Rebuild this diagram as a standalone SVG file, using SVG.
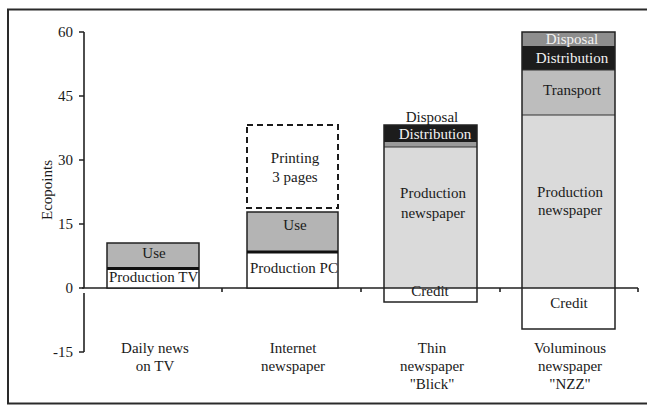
<svg xmlns="http://www.w3.org/2000/svg" width="647" height="407" viewBox="0 0 647 407">
<style>
text{font-family:"Liberation Serif","Times New Roman",serif;fill:#1a1a1a;font-size:15px}
.c{text-anchor:middle}
.r{text-anchor:end}
.w{fill:#f2f2f2}
.ax{stroke:#222;stroke-width:1.6;fill:none}
.seg{stroke:#222;stroke-width:1.3}
.use{fill:#b4b4b4}
.prod{fill:#dadada}
.trans{fill:#bdbdbd}
.dist{fill:#1c1c1c}
.disp{fill:#8e8e8e}
.white{fill:#ffffff}
.sep{stroke:#111;stroke-width:3}
</style>
<rect x="0" y="0" width="647" height="407" fill="#ffffff"/>
<rect x="8" y="9.5" width="660" height="394" fill="none" stroke="#2a2a2a" stroke-width="2"/>

<g id="axes">
  <path class="ax" d="M84 32V288M84 293V352"/>
  <path class="ax" d="M79 32H84M79 96H84M79 160H84M79 224H84M79 288H84M79 352H84"/>
  <path class="ax" d="M82 288H638M222 288V292M361 288V292M500 288V292M638 288V292"/>
  <text class="r" x="73" y="37">60</text>
  <text class="r" x="73" y="101">45</text>
  <text class="r" x="73" y="165">30</text>
  <text class="r" x="73" y="229">15</text>
  <text class="r" x="73" y="293">0</text>
  <text class="r" x="73" y="357">-15</text>
  <text class="c" transform="translate(52 190) rotate(-90)" font-size="14">Ecopoints</text>
</g>

<g id="bar-tv">
  <rect class="use" x="107" y="243" width="92" height="26"/>
  <rect class="white" x="107" y="269" width="92" height="19"/>
  <rect x="107" y="243" width="92" height="45" fill="none" stroke="#222" stroke-width="1.5"/>
  <line class="sep" x1="107" y1="268.5" x2="199" y2="268.5"/>
  <text class="c" x="154" y="258">Use</text>
  <text x="109" y="282">Production TV</text>
</g>

<g id="bar-internet">
  <rect x="247" y="125" width="91" height="83" fill="none" stroke="#1a1a1a" stroke-width="2" stroke-dasharray="6 4"/>
  <rect class="use" x="247" y="212" width="91" height="40"/>
  <rect class="white" x="247" y="252" width="91" height="36"/>
  <rect x="247" y="212" width="91" height="76" fill="none" stroke="#222" stroke-width="1.5"/>
  <line class="sep" x1="247" y1="252" x2="338" y2="252"/>
  <text class="c" x="295" y="163">Printing</text>
  <text class="c" x="295" y="182">3 pages</text>
  <text class="c" x="295" y="230">Use</text>
  <text x="250" y="273">Production PC</text>
</g>

<g id="bar-blick">
  <rect class="dist" x="384" y="125" width="93" height="17"/>
  <rect fill="#9a9a9a" x="384" y="142" width="93" height="5"/>
  <rect class="prod" x="384" y="147" width="93" height="141"/>
  <rect class="white" x="384" y="288" width="93" height="14"/>
  <line x1="384" y1="147" x2="477" y2="147" stroke="#333" stroke-width="1.2"/>
  <rect x="384" y="125" width="93" height="177" fill="none" stroke="#222" stroke-width="1.5"/>
  <line class="ax" x1="384" y1="288" x2="477" y2="288"/>
  <text class="c" x="432" y="122">Disposal</text>
  <text class="c w" x="435" y="139">Distribution</text>
  <text class="c" x="433" y="198">Production</text>
  <text class="c" x="433" y="218">newspaper</text>
  <text class="c" x="430" y="296">Credit</text>
</g>

<g id="bar-nzz">
  <rect class="disp" x="522" y="32" width="93" height="14"/>
  <rect class="dist" x="522" y="46" width="93" height="24"/>
  <rect class="trans" x="522" y="70" width="93" height="45"/>
  <rect class="prod" x="522" y="115" width="93" height="173"/>
  <rect class="white" x="522" y="288" width="93" height="41"/>
  <line x1="522" y1="115" x2="615" y2="115" stroke="#333" stroke-width="1.2"/>
  <line x1="522" y1="70" x2="615" y2="70" stroke="#333" stroke-width="1"/>
  <rect x="522" y="32" width="93" height="297" fill="none" stroke="#222" stroke-width="1.5"/>
  <line class="ax" x1="522" y1="288" x2="615" y2="288"/>
  <text class="c w" x="572" y="44">Disposal</text>
  <text class="c w" x="572" y="63">Distribution</text>
  <text class="c" x="572" y="95">Transport</text>
  <text class="c" x="570" y="197">Production</text>
  <text class="c" x="570" y="215">newspaper</text>
  <text class="c" x="569" y="308">Credit</text>
</g>

<g id="label-tv">
  <text class="c" x="155" y="353">Daily news</text>
  <text class="c" x="155" y="371">on TV</text>
</g>
<g id="label-internet">
  <text class="c" x="293" y="353">Internet</text>
  <text class="c" x="293" y="371">newspaper</text>
</g>
<g id="label-blick">
  <text class="c" x="432" y="353">Thin</text>
  <text class="c" x="432" y="371">newspaper</text>
  <text class="c" x="432" y="389">"Blick"</text>
</g>
<g id="label-nzz">
  <text class="c" x="570" y="353">Voluminous</text>
  <text class="c" x="570" y="371">newspaper</text>
  <text class="c" x="570" y="389">"NZZ"</text>
</g>
</svg>
